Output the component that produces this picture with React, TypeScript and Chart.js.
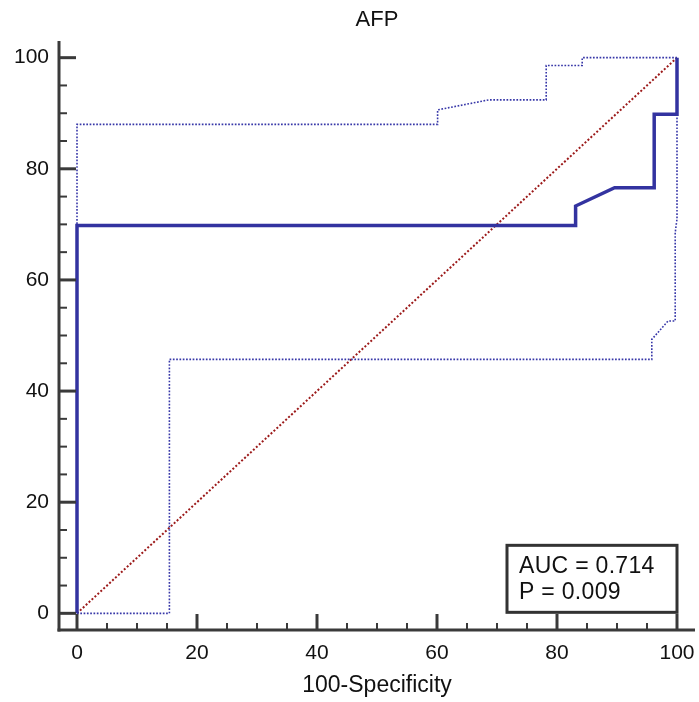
import React, { useEffect, useRef } from "react";
import { Chart, registerables } from "chart.js";

Chart.register(...registerables);

const chartTitle = "AFP";
const xAxisTitle = "100-Specificity";

// ROC curve (100-Specificity, Sensitivity)
const rocX = [0, 0, 83.1, 83.1, 89.6, 96.2, 96.2, 100, 100];
const rocY = [0, 69.8, 69.8, 73.3, 76.6, 76.6, 89.8, 89.8, 100];

// Upper confidence bound
const upperX = [0, 0, 60.1, 60.1, 68.6, 78.2, 78.2, 84.2, 84.2, 100];
const upperY = [0, 88.0, 88.0, 90.6, 92.4, 92.4, 98.6, 98.6, 100, 100];

// Lower confidence bound
const lowerX = [0, 15.4, 15.4, 95.8, 95.8, 98.5, 99.7, 99.7, 100, 100];
const lowerY = [0, 0, 45.7, 45.7, 49.3, 52.6, 52.6, 68.5, 71.0, 100];

// Reference diagonal
const diagX = [0, 100];
const diagY = [0, 100];

const legendLines = ["AUC = 0.714", "P = 0.009"];

const majorTickValues = [0, 20, 40, 60, 80, 100];
const tickValues = [0, 5, 10, 15, 20, 25, 30, 35, 40, 45, 50, 55, 60, 65, 70, 75, 80, 85, 90, 95, 100];

const FONT = "'Liberation Sans', Arial, Helvetica, sans-serif";
const AXIS_COLOR = "#3a3a3a";
const TEXT_COLOR = "#111111";

function toPoints(xs: number[], ys: number[]) {
  return xs.map((x, i) => ({ x, y: ys[i] }));
}

const axesPlugin = {
  id: "customAxes",
  afterDraw(chart: any) {
    const { ctx, chartArea } = chart;
    const xs = chart.scales.x;
    const ys = chart.scales.y;
    const ax = chartArea.left;
    const ay = chartArea.bottom;
    ctx.save();
    ctx.strokeStyle = AXIS_COLOR;
    ctx.lineCap = "butt";
    ctx.lineWidth = 3;
    ctx.beginPath();
    ctx.moveTo(ax, chartArea.top);
    ctx.lineTo(ax, ay + 1.5);
    ctx.stroke();
    ctx.beginPath();
    ctx.moveTo(ax - 1.5, ay);
    ctx.lineTo(chartArea.right, ay);
    ctx.stroke();

    for (const v of tickValues) {
      const major = majorTickValues.includes(v);
      ctx.lineWidth = major ? 3 : 2;
      const py = ys.getPixelForValue(v);
      ctx.beginPath();
      ctx.moveTo(ax, py);
      ctx.lineTo(ax + (major ? 17 : 8), py);
      ctx.stroke();
      const px = xs.getPixelForValue(v);
      ctx.beginPath();
      ctx.moveTo(px, ay);
      ctx.lineTo(px, ay - (major ? 16 : 7));
      ctx.stroke();
    }

    // legend box with AUC / P
    const right = xs.getPixelForValue(100);
    const bottom = ys.getPixelForValue(0) - 1;
    const w = 170;
    const h = 67;
    const left = right - w;
    const top = bottom - h;
    ctx.fillStyle = "#ffffff";
    ctx.fillRect(left, top, w, h);
    ctx.lineWidth = 3;
    ctx.strokeStyle = "#333333";
    ctx.strokeRect(left, top, w, h);
    ctx.font = `23px ${FONT}`;
    try {
      ctx.letterSpacing = "0.3px";
    } catch (e) {}
    ctx.fillStyle = TEXT_COLOR;
    ctx.textAlign = "left";
    ctx.textBaseline = "alphabetic";
    legendLines.forEach((t, i) => {
      ctx.fillText(t, left + 12, top + 28 + i * 26);
    });
    ctx.restore();
  },
};

export default function App() {
  const canvasRef = useRef<HTMLCanvasElement | null>(null);

  useEffect(() => {
    const canvas = canvasRef.current;
    if (!canvas) return;
    const chart = new Chart(canvas, {
      type: "line",
      data: {
        datasets: [
          {
            label: "ROC",
            data: toPoints(rocX, rocY),
            borderColor: "#3333a0",
            borderWidth: 3.5,
            pointRadius: 0,
            tension: 0,
            fill: false,
            order: 0,
          },
          {
            label: "Upper",
            data: toPoints(upperX, upperY),
            borderColor: "#3737a8",
            borderWidth: 1.6,
            borderDash: [1.7, 1.6],
            pointRadius: 0,
            tension: 0,
            fill: false,
            order: 1,
          },
          {
            label: "Lower",
            data: toPoints(lowerX, lowerY),
            borderColor: "#3737a8",
            borderWidth: 1.6,
            borderDash: [1.7, 1.6],
            pointRadius: 0,
            tension: 0,
            fill: false,
            order: 1,
          },
          {
            label: "Diagonal",
            data: toPoints(diagX, diagY),
            borderColor: "#9c1a1a",
            borderWidth: 2,
            borderDash: [2, 2],
            pointRadius: 0,
            tension: 0,
            fill: false,
            order: 2,
          },
        ],
      },
      options: {
        animation: false,
        responsive: false,
        devicePixelRatio: 1,
        layout: { padding: { left: 0, right: 4, top: 0, bottom: 0 } },
        plugins: {
          legend: { display: false },
          tooltip: { enabled: false },
          title: {
            display: true,
            text: chartTitle,
            fullSize: false,
            color: TEXT_COLOR,
            font: { family: FONT, size: 22, weight: "normal" },
            padding: { top: 7, bottom: 7.6 },
          },
        },
        scales: {
          x: {
            type: "linear",
            min: -3,
            max: 103,
            afterBuildTicks: (s: any) => {
              s.ticks = tickValues.map((v) => ({ value: v }));
            },
            afterFit: (s: any) => {
              s.height = 72;
              s.paddingLeft = 0;
              s.paddingRight = 0;
            },
            grid: { display: false, drawTicks: false },
            border: { display: false },
            ticks: {
              autoSkip: false,
              maxRotation: 0,
              padding: 11,
              color: TEXT_COLOR,
              font: { family: FONT, size: 21 },
              callback: (v: any) => (majorTickValues.includes(Number(v)) ? String(v) : ""),
            },
            title: {
              display: true,
              text: xAxisTitle,
              color: TEXT_COLOR,
              font: { family: FONT, size: 23 },
              padding: { top: 0, bottom: 3 },
            },
          },
          y: {
            type: "linear",
            min: -3,
            max: 103,
            afterBuildTicks: (s: any) => {
              s.ticks = tickValues.map((v) => ({ value: v }));
            },
            afterFit: (s: any) => {
              s.width = 59;
              s.paddingTop = 0;
              s.paddingBottom = 0;
            },
            grid: { display: false, drawTicks: false },
            border: { display: false },
            ticks: {
              autoSkip: false,
              padding: 10,
              color: TEXT_COLOR,
              font: { family: FONT, size: 21 },
              callback: (v: any) => (majorTickValues.includes(Number(v)) ? String(v) : ""),
            },
          },
        },
      },
      plugins: [axesPlugin],
    } as any);
    return () => chart.destroy();
  }, []);

  return (
    <div style={{ position: "absolute", left: 0, top: 0, width: 699, height: 702, background: "#fff" }}>
      <canvas ref={canvasRef} width={699} height={702} style={{ display: "block", width: 699, height: 702 }} />
    </div>
  );
}
